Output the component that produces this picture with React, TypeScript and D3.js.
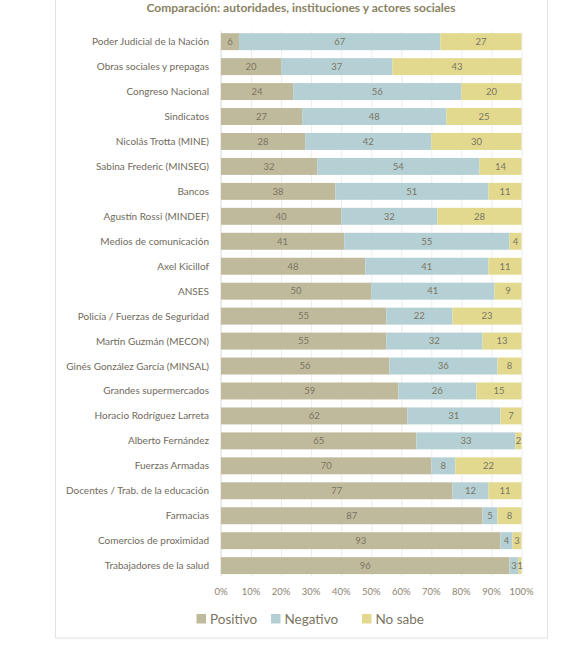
import React, { useEffect, useRef } from "react";
import * as d3 from "d3";

const title = "Comparación: autoridades, instituciones y actores sociales";
const categories = [
  "Poder Judicial de la Nación",
  "Obras sociales y prepagas",
  "Congreso Nacional",
  "Sindicatos",
  "Nicolás Trotta (MINE)",
  "Sabina Frederic (MINSEG)",
  "Bancos",
  "Agustín Rossi (MINDEF)",
  "Medios de comunicación",
  "Axel Kicillof",
  "ANSES",
  "Policía / Fuerzas de Seguridad",
  "Martín Guzmán (MECON)",
  "Ginés González García (MINSAL)",
  "Grandes supermercados",
  "Horacio Rodríguez Larreta",
  "Alberto Fernández",
  "Fuerzas Armadas",
  "Docentes / Trab. de la educación",
  "Farmacias",
  "Comercios de proximidad",
  "Trabajadores de la salud",
];
const positivo = [6, 20, 24, 27, 28, 32, 38, 40, 41, 48, 50, 55, 55, 56, 59, 62, 65, 70, 77, 87, 93, 96];
const negativo = [67, 37, 56, 48, 42, 54, 51, 32, 55, 41, 41, 22, 32, 36, 26, 31, 33, 8, 12, 5, 4, 3];
const noSabe = [27, 43, 20, 25, 30, 14, 11, 28, 4, 11, 9, 23, 13, 8, 15, 7, 2, 22, 11, 8, 3, 1];
const seriesNames = ["Positivo", "Negativo", "No sabe"];
const seriesColors = ["#c0ba9c", "#b5d0d4", "#e2d98f"];
const xTicks = [0, 10, 20, 30, 40, 50, 60, 70, 80, 90, 100];

export default function App() {
  const ref = useRef<SVGSVGElement>(null);
  useEffect(() => {
    const svg = d3.select(ref.current);
    svg.selectAll("*").remove();
    const font = "Lato, 'Open Sans', sans-serif";

    // frame
    svg.append("rect").attr("x", 55.5).attr("y", -10).attr("width", 492).attr("height", 648)
      .attr("fill", "#fff").attr("stroke", "#e2e2e2").attr("stroke-width", 1);

    svg.append("text").attr("x", 301).attr("y", 11.5).attr("text-anchor", "middle")
      .attr("font-family", font).attr("font-weight", "bold").attr("font-size", 12)
      .attr("fill", "#8a8262").text(title);

    const x = d3.scaleLinear().domain([0, 100]).range([221, 521.5]);
    const y = d3.scaleBand<string>().domain(categories).range([25.2, 582.1]).padding(0.32);

    const table = categories.map((c, i) => ({ cat: c, vals: [positivo[i], negativo[i], noSabe[i]] }));

    const top = (y(categories[0]) as number) - 2;
    const bottom = (y(categories[categories.length - 1]) as number) + y.bandwidth() + 2;

    // grid
    svg.append("g").selectAll("line").data(xTicks.slice(1)).join("line")
      .attr("x1", (d) => x(d) + 0.5).attr("x2", (d) => x(d) + 0.5)
      .attr("y1", top).attr("y2", bottom).attr("stroke", "#ececec").attr("stroke-width", 1);
    svg.append("line").attr("x1", x(0)).attr("x2", x(0)).attr("y1", top).attr("y2", bottom)
      .attr("stroke", "#d9d9d9");

    const rows = svg.append("g").selectAll("g").data(table).join("g")
      .attr("transform", (d) => `translate(0,${y(d.cat)})`);

    rows.each(function (d) {
      const g = d3.select(this);
      let acc = 0;
      d.vals.forEach((v, k) => {
        const x0 = x(acc);
        const x1 = x(Math.min(acc + v, 100));
        g.append("rect").attr("x", x0).attr("y", 0).attr("width", Math.max(0, x1 - x0))
          .attr("height", y.bandwidth()).attr("fill", seriesColors[k]);
        g.append("text").attr("x", (x0 + x1) / 2).attr("y", y.bandwidth() / 2 + 3.3)
          .attr("text-anchor", "middle").attr("font-family", font).attr("font-size", 9.5)
          .attr("fill", "#7a7562").text(v);
        acc += v;
      });
    });

    // category labels
    svg.append("g").selectAll("text").data(categories).join("text")
      .attr("x", 209).attr("y", (d) => (y(d) as number) + y.bandwidth() / 2 + 3.5)
      .attr("text-anchor", "end").attr("font-family", font).attr("font-size", 10)
      .attr("fill", "#6f6a5c").text((d) => d);

    // x tick labels
    svg.append("g").selectAll("text").data(xTicks).join("text")
      .attr("x", (d) => x(d)).attr("y", 594.5).attr("text-anchor", "middle")
      .attr("font-family", font).attr("font-size", 9.5).attr("fill", "#8c8370")
      .text((d) => `${d}%`);

    // legend
    const legendX = [196.5, 271, 362];
    const lg = svg.append("g").selectAll("g").data(seriesNames).join("g")
      .attr("transform", (_d, i) => `translate(${legendX[i]},614)`);
    lg.append("rect").attr("width", 9.5).attr("height", 9.5).attr("fill", (_d, i) => seriesColors[i]);
    lg.append("text").attr("x", 13.5).attr("y", 9.5).attr("font-family", font).attr("font-size", 13.5)
      .attr("fill", "#7a7562").text((d) => d);
  }, []);
  return (
    <svg ref={ref} width={580} height={647}
      style={{ position: "absolute", left: 0, top: 0, background: "#fff" }} />
  );
}
